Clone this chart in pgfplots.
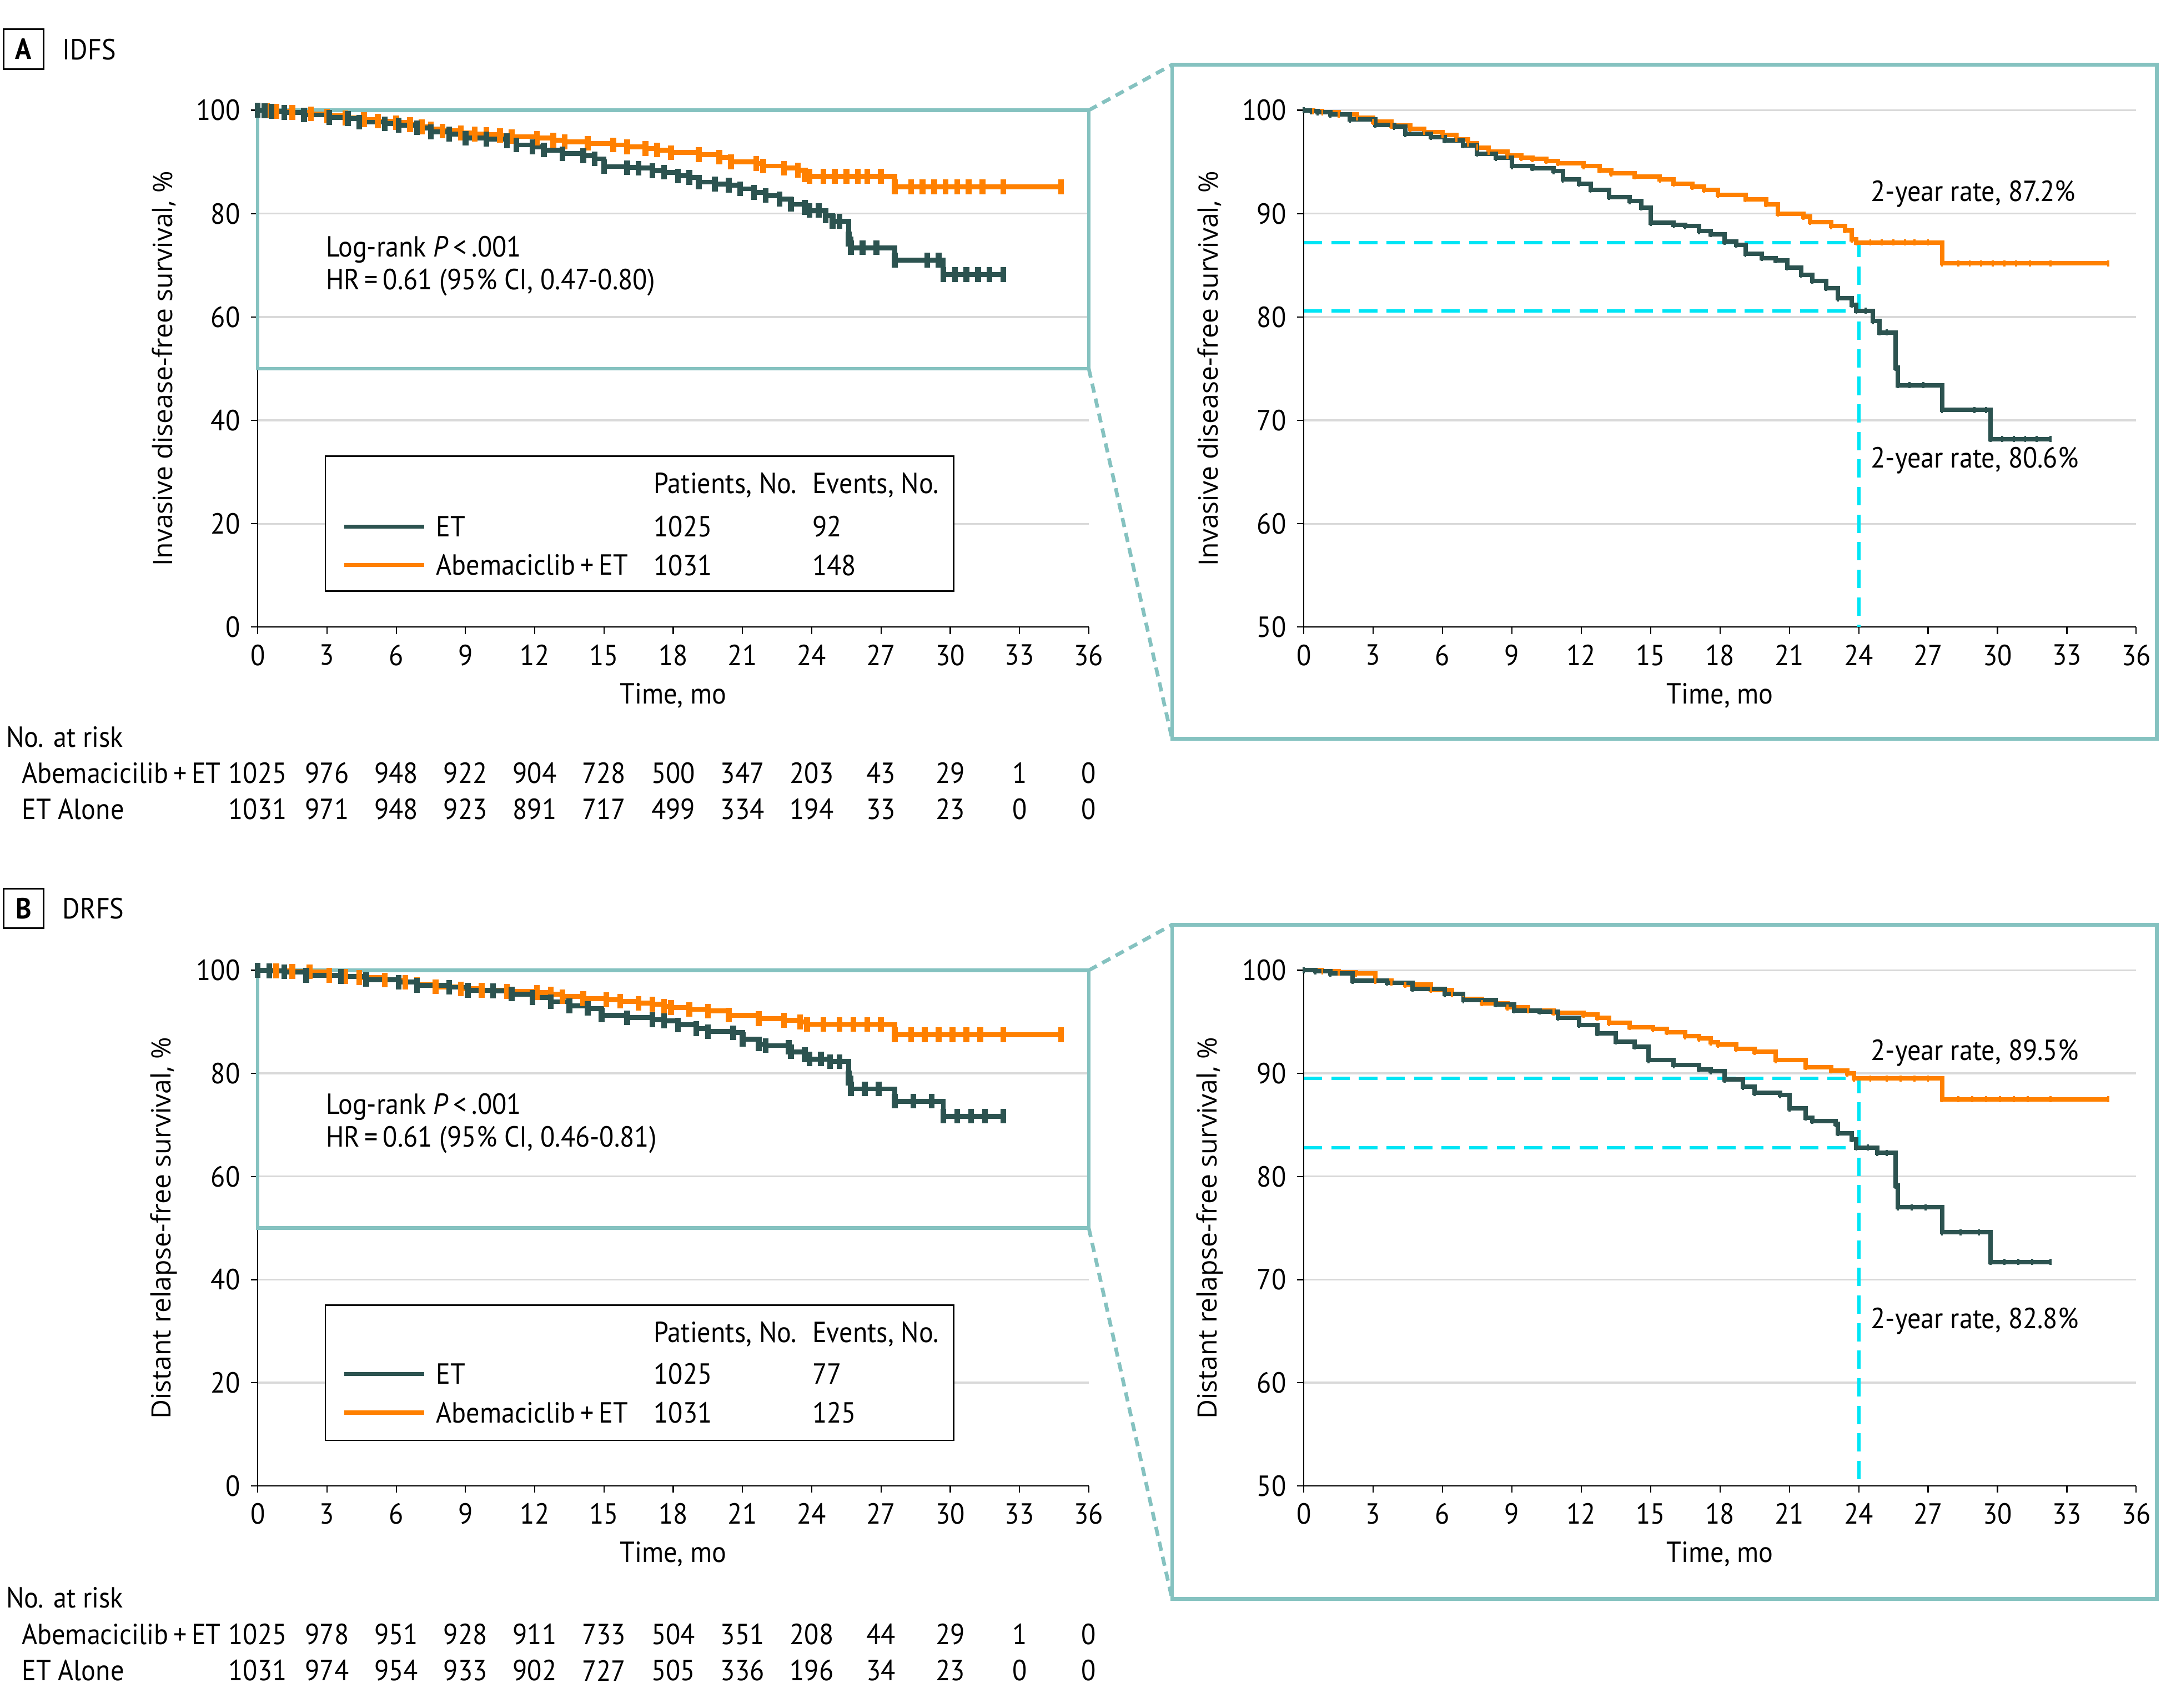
\documentclass[border=0pt]{standalone}
\usepackage{fontspec}
\setmainfont{PT Sans}[FakeStretch=0.92]
\newfontfamily\ylabfont{Open Sans}
\usepackage{pgfplots}
\pgfplotsset{compat=1.18}
\usepackage{pgfplotstable}

\definecolor{etcol}{HTML}{2C5350}
\definecolor{abecol}{HTML}{FF8000}
\definecolor{zoomcol}{HTML}{85C2C0}
\definecolor{refcol}{HTML}{00E5F5}
\definecolor{gridcol}{HTML}{D9D9D9}

\newcommand{\fs}{\fontsize{9.5}{11}\selectfont}

% IDFS, abemaciclib + ET
\pgfplotstableread{
t s
0 100
0.4 99.9
0.8 99.8
1.5 99.6
2.3 99.3
3.0 98.9
3.8 98.5
4.6 98.2
5.2 97.9
6.0 97.6
6.6 97.2
7.1 96.8
7.5 96.4
8.0 96.0
8.8 95.6
9.4 95.4
9.9 95.3
10.5 95.1
11.0 94.9
12.1 94.6
12.8 94.2
13.3 93.9
14.3 93.6
15.4 93.3
16.0 92.9
16.8 92.6
17.3 92.3
17.9 91.8
19.1 91.4
20.0 90.9
20.5 90.0
21.6 89.7
21.9 89.2
22.8 88.8
23.4 88.4
23.7 87.5
23.9 87.2
24.5 87.2
25.0 87.2
25.5 87.2
26.0 87.2
26.4 87.2
27.0 87.2
27.6 85.2
28.3 85.2
28.8 85.2
29.3 85.2
29.8 85.2
30.3 85.2
30.8 85.2
31.4 85.2
32.3 85.2
34.8 85.2
}\abeA

% IDFS, ET
\pgfplotstableread{
t s
0 100
0.3 99.9
0.6 99.8
1.15 99.6
2.0 99.1
3.1 98.6
3.9 98.4
4.4 97.7
5.5 97.4
6.1 97.1
6.9 96.6
7.5 95.8
8.3 95.4
9.0 94.6
9.9 94.4
10.8 94.1
11.2 93.3
11.9 92.9
12.4 92.3
13.2 91.6
14.1 91.2
14.6 90.6
15.0 89.1
16.0 88.9
16.5 88.8
17.1 88.3
17.6 88.0
18.2 87.3
18.7 87.0
19.1 86.1
19.8 85.7
20.4 85.5
20.9 84.8
21.5 84.1
22.0 83.5
22.6 82.8
23.1 81.8
23.7 81.2
23.9 80.6
24.3 80.6
24.6 79.6
24.9 78.5
25.2 78.5
25.6 75.1
25.7 73.4
26.2 73.4
26.8 73.4
27.6 71.0
29.0 71.0
29.5 71.0
29.7 68.2
30.2 68.2
30.7 68.2
31.2 68.2
31.7 68.2
32.3 68.2
}\etA

% DRFS, abemaciclib + ET
\pgfplotstableread{
t s
0 100
0.8 99.9
1.5 99.8
2.25 99.7
3.1 99.0
3.8 98.8
4.4 98.6
5.5 98.1
6.4 97.7
6.9 97.2
7.7 96.8
8.8 96.4
9.7 96.1
10.8 95.9
12.1 95.7
12.7 95.4
13.2 94.9
14.1 94.5
15.1 94.3
15.7 94.0
16.5 93.6
17.1 93.4
17.6 93.0
17.9 92.8
18.7 92.4
19.5 92.1
20.4 91.3
21.7 90.6
22.8 90.3
23.5 90.0
23.8 89.5
24.5 89.5
25.2 89.5
25.8 89.5
26.4 89.5
27.0 89.5
27.6 87.5
28.3 87.5
28.9 87.5
29.5 87.5
30.1 87.5
30.7 87.5
31.3 87.5
32.3 87.5
34.8 87.5
}\abeB

% DRFS, ET
\pgfplotstableread{
t s
0 100
0.5 99.9
1.15 99.7
2.1 99.0
3.6 98.8
4.7 98.2
6.1 97.7
6.9 97.1
8.3 96.7
9.1 96.1
10.2 96.0
11.0 95.4
11.9 94.7
12.7 93.9
13.5 93.1
14.3 92.6
14.9 91.3
16.0 90.8
17.1 90.4
17.6 90.2
18.2 89.4
19.0 88.7
19.5 88.1
20.6 87.9
21.0 86.6
21.7 85.7
22.0 85.4
23.0 85.1
23.1 84.2
23.7 83.6
23.9 82.8
24.4 82.8
24.8 82.3
25.2 82.3
25.6 79.1
25.7 77.0
26.3 77.0
26.9 77.0
27.6 74.6
28.4 74.6
29.2 74.6
29.7 71.7
30.3 71.7
30.9 71.7
31.5 71.7
32.3 71.7
}\etB

\tikzset{
  txt/.style={anchor=west, inner sep=0pt, font=\fs},
  refline/.style={refcol, line width=1.1pt, dash pattern=on 6pt off 3pt},
  zoomdash/.style={zoomcol, line width=1.2pt, dash pattern=on 3pt off 2pt},
}

\pgfplotsset{
  km/.style={
    scale only axis, anchor=south west,
    xmin=0, xmax=36, xtick={0,3,...,36},
    axis x line*=bottom, axis y line*=left,
    tick align=outside, major tick length=2.2pt,
    tick style={black, line width=0.4pt},
    axis line style={black, line width=0.4pt},
    ymajorgrids, major grid style={gridcol, line width=0.6pt},
    /pgf/number format/assume math mode=true,
    ticklabel style={font=\fs},
    xlabel={Time, mo},
    xlabel style={font=\fs, at={(axis description cs:0.5,-0.133)}, anchor=center},
    ylabel style={font=\ylabfont\fontsize{8.7}{10}\selectfont, at={(axis description cs:-0.113,0.5)}, anchor=center},
    clip=false,
  },
  kmleft/.style={km, width=271.35pt, height=168.75pt, ymin=0, ymax=100, ytick={0,20,...,100}},
  kmright/.style={km, width=271.8pt, height=168.75pt, ymin=50, ymax=100, ytick={50,60,...,100}},
  curveL/.style={const plot, line width=1.6pt, mark=|, mark size=2.4pt, mark options={solid, line width=1.9pt}},
  curveR/.style={const plot, line width=1.45pt, mark=|, mark size=1pt, mark options={solid, line width=0.7pt}},
}

\begin{document}
\begin{tikzpicture}
\useasboundingbox (0,0) rectangle (705.6pt,557.55pt);

% ---------------- Panel A ----------------
\draw[line width=0.6pt] (1.2pt,535pt) rectangle (14.2pt,548pt);
\node[font=\fs\bfseries] at (7.7pt,541.5pt) {A};
\node[txt] at (20.25pt,541.4pt) {IDFS};

\begin{axis}[kmleft, at={(84.15pt,352.8pt)}, ylabel={Invasive disease-free survival, \%}]
  \draw[zoomcol, line width=1.2pt] (axis cs:0,50) rectangle (axis cs:36,100);
  \coordinate (Atop) at (axis cs:36,100);
  \coordinate (Abot) at (axis cs:36,50);
  \addplot[curveL, abecol] table {\abeA};
  \addplot[curveL, etcol] table {\etA};
  \node[txt] at (axis cs:2.93,73.1) {Log-rank \textit{P}\,<\,.001};
  \node[txt] at (axis cs:2.93,66.7) {HR\,=\,0.61 (95\% CI, 0.47-0.80)};
  \draw[black, line width=0.5pt, fill=white] (axis cs:2.93,33.07) rectangle (axis cs:30.15,6.93);
  \node[txt] at (axis cs:17.13,27.5) {Patients, No.};
  \node[txt] at (axis cs:24.0,27.5) {Events, No.};
  \draw[etcol, line width=1.3pt] (axis cs:3.76,19.47) -- (axis cs:7.22,19.47);
  \node[txt] at (axis cs:7.70,19.47) {ET};
  \node[txt] at (axis cs:17.13,19.47) {1025};
  \node[txt] at (axis cs:24.0,19.47) {92};
  \draw[abecol, line width=1.3pt] (axis cs:3.76,12.0) -- (axis cs:7.22,12.0);
  \node[txt] at (axis cs:7.70,12.0) {Abemaciclib\,+\,ET};
  \node[txt] at (axis cs:17.13,12.0) {1031};
  \node[txt] at (axis cs:24.0,12.0) {148};
\end{axis}

\begin{axis}[kmright, at={(425.7pt,352.8pt)}, ylabel={Invasive disease-free survival, \%}]
  \addplot[refline] coordinates {(0,87.2) (24,87.2) (24,50)};
  \addplot[refline] coordinates {(0,80.6) (24,80.6)};
  \addplot[curveR, abecol] table {\abeA};
  \addplot[curveR, etcol] table {\etA};
  \node[txt] at (axis cs:24.5,91.9) {2-year rate, 87.2\%};
  \node[txt] at (axis cs:24.5,66.1) {2-year rate, 80.6\%};
\end{axis}

\draw[zoomdash] (Atop) -- (382.7pt,536.4pt);
\draw[zoomdash] (Abot) -- (382.7pt,316.3pt);
\draw[zoomcol, line width=1.2pt] (382.7pt,316.3pt) rectangle (704.25pt,536.4pt);

\node[txt] at (1.8pt,317.0pt) {No. at risk};
\node[txt] at (6.9pt,305.2pt) {Abemacicilib\,+\,ET};
\node[txt] at (6.9pt,293.4pt) {ET Alone};
\foreach \v [count=\k from 0] in {1025,976,948,922,904,728,500,347,203,43,29,1,0}
  \node[font=\fs, inner sep=0pt] at ({84.15pt+\k*22.6125pt},305.2pt) {\v};
\foreach \v [count=\k from 0] in {1031,971,948,923,891,717,499,334,194,33,23,0,0}
  \node[font=\fs, inner sep=0pt] at ({84.15pt+\k*22.6125pt},293.4pt) {\v};

% ---------------- Panel B ----------------
\draw[line width=0.6pt] (1.2pt,254.5pt) rectangle (14.2pt,267.4pt);
\node[font=\fs\bfseries] at (7.7pt,261.0pt) {B};
\node[txt] at (20.25pt,261.0pt) {DRFS};

\begin{axis}[kmleft, at={(84.15pt,72.45pt)}, height=168.3pt, ylabel={Distant relapse-free survival, \%}]
  \draw[zoomcol, line width=1.2pt] (axis cs:0,50) rectangle (axis cs:36,100);
  \coordinate (Btop) at (axis cs:36,100);
  \coordinate (Bbot) at (axis cs:36,50);
  \addplot[curveL, abecol] table {\abeB};
  \addplot[curveL, etcol] table {\etB};
  \node[txt] at (axis cs:2.93,73.5) {Log-rank \textit{P}\,<\,.001};
  \node[txt] at (axis cs:2.93,67.1) {HR\,=\,0.61 (95\% CI, 0.46-0.81)};
  \draw[black, line width=0.5pt, fill=white] (axis cs:2.93,35.0) rectangle (axis cs:30.15,8.8);
  \node[txt] at (axis cs:17.13,29.4) {Patients, No.};
  \node[txt] at (axis cs:24.0,29.4) {Events, No.};
  \draw[etcol, line width=1.3pt] (axis cs:3.76,21.7) -- (axis cs:7.22,21.7);
  \node[txt] at (axis cs:7.70,21.7) {ET};
  \node[txt] at (axis cs:17.13,21.7) {1025};
  \node[txt] at (axis cs:24.0,21.7) {77};
  \draw[abecol, line width=1.3pt] (axis cs:3.76,14.2) -- (axis cs:7.22,14.2);
  \node[txt] at (axis cs:7.70,14.2) {Abemaciclib\,+\,ET};
  \node[txt] at (axis cs:17.13,14.2) {1031};
  \node[txt] at (axis cs:24.0,14.2) {125};
\end{axis}

\begin{axis}[kmright, at={(425.7pt,72.45pt)}, height=168.3pt, ylabel={Distant relapse-free survival, \%}]
  \addplot[refline] coordinates {(0,89.5) (24,89.5) (24,50)};
  \addplot[refline] coordinates {(0,82.8) (24,82.8)};
  \addplot[curveR, abecol] table {\abeB};
  \addplot[curveR, etcol] table {\etB};
  \node[txt] at (axis cs:24.5,92.0) {2-year rate, 89.5\%};
  \node[txt] at (axis cs:24.5,66.0) {2-year rate, 82.8\%};
\end{axis}

\draw[zoomdash] (Btop) -- (382.7pt,255.6pt);
\draw[zoomdash] (Bbot) -- (382.7pt,35.5pt);
\draw[zoomcol, line width=1.2pt] (382.7pt,35.5pt) rectangle (704.25pt,255.6pt);

\node[txt] at (1.8pt,36.0pt) {No. at risk};
\node[txt] at (6.9pt,24.0pt) {Abemacicilib\,+\,ET};
\node[txt] at (6.9pt,12.15pt) {ET Alone};
\foreach \v [count=\k from 0] in {1025,978,951,928,911,733,504,351,208,44,29,1,0}
  \node[font=\fs, inner sep=0pt] at ({84.15pt+\k*22.6125pt},24.0pt) {\v};
\foreach \v [count=\k from 0] in {1031,974,954,933,902,727,505,336,196,34,23,0,0}
  \node[font=\fs, inner sep=0pt] at ({84.15pt+\k*22.6125pt},12.15pt) {\v};
\end{tikzpicture}
\end{document}
